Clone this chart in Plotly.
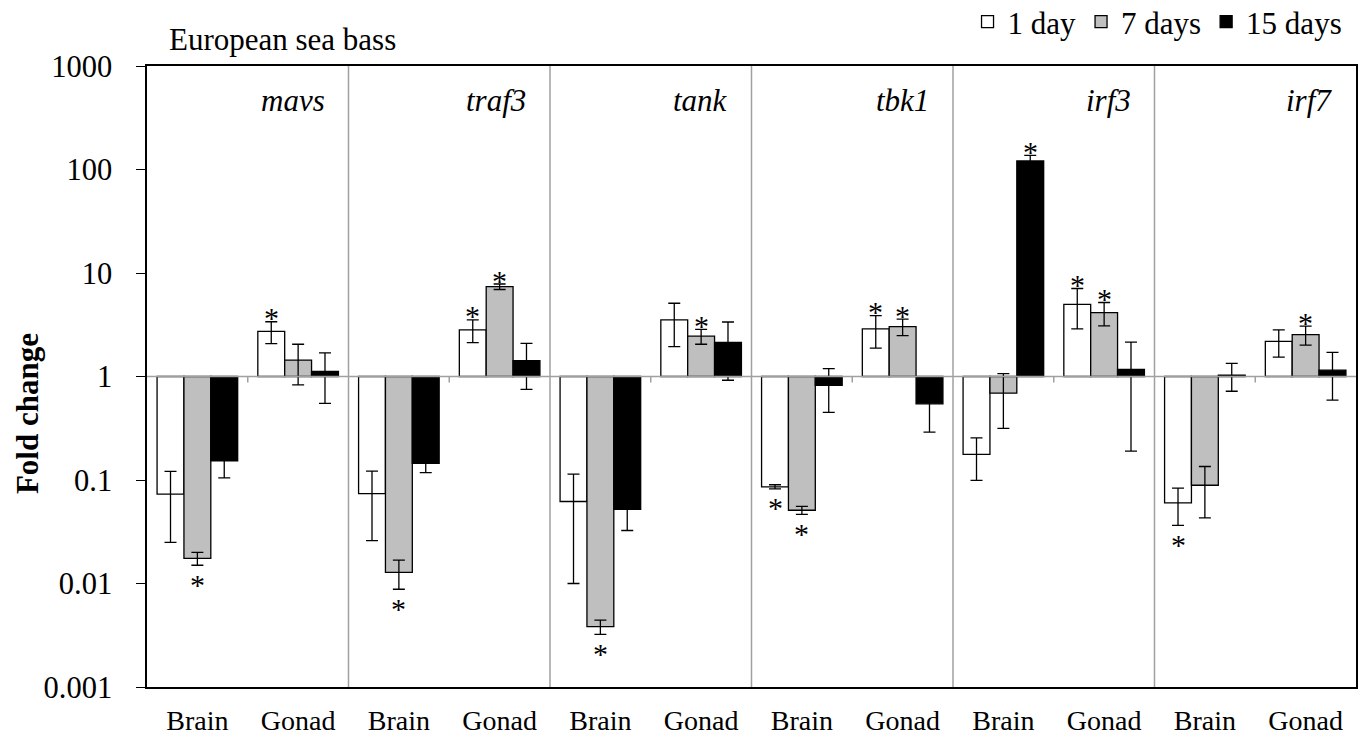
import math
import plotly.graph_objects as go

# Fold change (relative to control) per gene and tissue, European sea bass
genes = ["mavs", "traf3", "tank", "tbk1", "irf3", "irf7"]
tissues = ["Brain", "Gonad"]
series_names = ["1 day", "7 days", "15 days"]

# order: mavs Brain, mavs Gonad, traf3 Brain, traf3 Gonad, ...
day1 = [0.073, 2.73, 0.074, 2.82, 0.062, 3.52, 0.086, 2.88, 0.177, 4.98, 0.060, 2.18]
day1_err = [0.048, 0.65, 0.048, 0.70, 0.052, 1.58, 0.004, 1.00, 0.078, 2.10, 0.0235, 0.64]
day1_sig = [0, 1, 0, 1, 0, 0, 1, 1, 0, 1, 1, 0]

day7 = [0.0175, 1.44, 0.0128, 7.38, 0.00383, 2.45, 0.051, 3.03, 0.69, 4.14, 0.089, 2.54]
day7_err = [0.0025, 0.61, 0.004, 0.45, 0.0006, 0.40, 0.0045, 0.55, 0.375, 1.05, 0.046, 0.53]
day7_sig = [1, 0, 1, 1, 1, 1, 1, 1, 0, 1, 0, 1]

day15 = [0.153, 1.12, 0.145, 1.42, 0.052, 2.14, 0.82, 0.545, 121.0, 1.17, 1.03, 1.15]
day15_err = [0.048, 0.57, 0.027, 0.67, 0.0195, 1.22, 0.37, 0.255, 16.0, 0.98, 0.31, 0.56]
day15_sig = [0, 0, 0, 0, 0, 0, 0, 0, 1, 0, 0, 0]

ytick_vals = [0.001, 0.01, 0.1, 1, 10, 100, 1000]
ytick_text = ["0.001", "0.01", "0.1", "1", "10", "100", "1000"]

SERIF = "Liberation Serif"
fills = ["#FFFFFF", "#BFBFBF", "#000000"]
all_vals = [day1, day7, day15]
all_errs = [day1_err, day7_err, day15_err]
all_sig = [day1_sig, day7_sig, day15_sig]

n_cat = len(genes) * len(tissues)
xpos = list(range(n_cat))
xlabels = [t for g in genes for t in tissues]

fig = go.Figure()
for name, vals, errs, col in zip(series_names, all_vals, all_errs, fills):
    # bars grow up or down from a fold change of 1
    fig.add_trace(go.Bar(
        x=xpos,
        y=[v - 1 for v in vals],
        base=[1] * n_cat,
        name=name,
        marker=dict(color=col, line=dict(color="black", width=1.3)),
        error_y=dict(type="data", array=errs, color="black", thickness=1.3, width=6),
        customdata=vals,
        hovertemplate="%{customdata}<extra>" + name + "</extra>",
    ))

bargap = 0.2
bar_w = (1 - bargap) / len(series_names)
annotations = []

# significance asterisks beyond the error bar ends
for k, (vals, errs, sig) in enumerate(zip(all_vals, all_errs, all_sig)):
    off = (k - 1) * bar_w
    for i in range(n_cat):
        if not sig[i]:
            continue
        up = vals[i] >= 1
        end = vals[i] + errs[i] if up else vals[i] - errs[i]
        annotations.append(dict(
            x=i + off, y=math.log10(end), xref="x", yref="y",
            text="*", showarrow=False, yanchor="middle",
            yshift=4 if up else -19,
            font=dict(family=SERIF, size=30, color="black"),
        ))

# gene names, right-aligned in each panel
for gi, g in enumerate(genes):
    annotations.append(dict(
        x=gi * 2 + 1.5, y=0.945, xref="x", yref="paper",
        text="<i>" + g + "</i>", showarrow=False, xanchor="right", yanchor="middle",
        xshift=-22,
        font=dict(family=SERIF, size=31, color="black"),
    ))

annotations.append(dict(
    x=0.0165, y=1.042, xref="paper", yref="paper", text="European sea bass",
    showarrow=False, xanchor="left", yanchor="middle",
    font=dict(family=SERIF, size=31, color="black"),
))
annotations.append(dict(
    x=-0.099, y=0.44, xref="paper", yref="paper", text="<b>Fold change</b>",
    showarrow=False, textangle=-90, xanchor="center", yanchor="middle",
    font=dict(family=SERIF, size=31, color="black"),
))

shapes = []
# vertical separators between genes
for gi in range(1, len(genes)):
    shapes.append(dict(type="line", xref="x", yref="paper", x0=gi * 2 - 0.5, x1=gi * 2 - 0.5,
                       y0=0, y1=1, line=dict(color="#A0A0A0", width=1.5), layer="above"))
# horizontal line at fold change = 1 (middle of the -3..3 decade range)
shapes.append(dict(type="line", xref="paper", yref="paper", x0=0, x1=1, y0=0.5, y1=0.5,
                   line=dict(color="#A0A0A0", width=1.5), layer="above"))
# small category ticks under that line
for i in range(0, n_cat, 2):
    shapes.append(dict(type="line", xref="x", yref="paper", x0=i + 0.5, x1=i + 0.5,
                       y0=0.5, y1=0.5 - 6 / 621, line=dict(color="#A0A0A0", width=1.5),
                       layer="above"))

fig.update_layout(
    width=1369, height=737,
    margin=dict(l=147, r=13, t=66, b=50, autoexpand=False),
    paper_bgcolor="white", plot_bgcolor="white",
    barmode="group", bargap=bargap, bargroupgap=0,
    font=dict(family=SERIF, color="black"),
    showlegend=True,
    legend=dict(orientation="h", x=0.993, xanchor="right", y=1.071, yanchor="middle",
                font=dict(family=SERIF, size=31, color="black"),
                bgcolor="rgba(0,0,0,0)", itemclick=False, traceorder="normal"),
    annotations=annotations,
    shapes=shapes,
)
fig.update_xaxes(
    range=[-0.5, n_cat - 0.5], tickmode="array", tickvals=xpos, ticktext=xlabels,
    showgrid=False, zeroline=False, showline=True, linecolor="black", linewidth=1.5,
    mirror=True, ticks="", ticklabelstandoff=8,
    tickfont=dict(family=SERIF, size=28, color="black"),
)
fig.update_yaxes(
    type="log", range=[-3, 3], tickmode="array", tickvals=ytick_vals, ticktext=ytick_text,
    showgrid=False, zeroline=False, showline=True, linecolor="black", linewidth=1.5,
    mirror=True, ticks="outside", ticklen=9, tickwidth=1.3, tickcolor="black",
    ticklabelstandoff=18,
    tickfont=dict(family=SERIF, size=30.5, color="black"),
)

fig.write_html("out.html")
